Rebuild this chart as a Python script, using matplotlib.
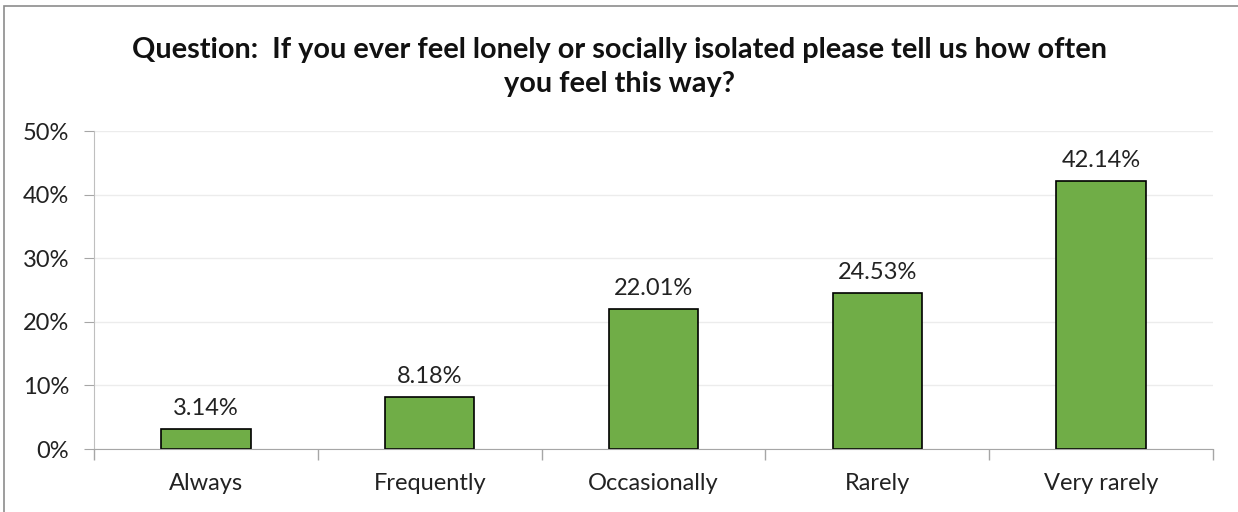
import matplotlib.pyplot as plt
import numpy as np
from matplotlib.patches import Rectangle
from matplotlib.ticker import FuncFormatter

# Data
categories = ['Always', 'Frequently', 'Occasionally', 'Rarely', 'Very rarely']
values = [3.14, 8.18, 22.01, 24.53, 42.14]
title = 'Question:  If you ever feel lonely or socially isolated please tell us how often\nyou feel this way?'

plt.rcParams['font.family'] = ['Lato', 'DejaVu Sans']

fig = plt.figure(figsize=(12.38, 5.12), dpi=100)
ax = fig.add_axes([94 / 1238, 1 - 449 / 512, (1213 - 94) / 1238, (449 - 131) / 512])

x = np.arange(len(categories))
bars = ax.bar(x, values, width=0.4, color='#70ad47', edgecolor='black', linewidth=1.2, zorder=3)

for xi, v in zip(x, values):
    ax.annotate(f'{v:.2f}%', (xi, v), xytext=(0, 7), textcoords='offset points',
                ha='center', va='bottom', fontsize=17, color='#222222')

ax.set_xlim(-0.5, len(categories) - 0.5)
ax.set_ylim(0, 50)
ax.set_yticks(np.arange(0, 51, 10))
ax.yaxis.set_major_formatter(FuncFormatter(lambda v, p: f'{v:.0f}%'))
ax.set_xticks(x)
ax.set_xticklabels(categories)
ax.set_xticks(np.arange(-0.5, len(categories), 1), minor=True)
ax.tick_params(axis='x', which='major', length=0, pad=17, labelsize=17, colors='#222222')
ax.tick_params(axis='x', which='minor', length=8, color='#a6a6a6', width=1)
ax.tick_params(axis='y', length=7, labelsize=17, pad=11)
ax.tick_params(axis='y', colors='#a6a6a6', labelcolor='#222222')

ax.grid(axis='y', color='#ececec', linewidth=1, zorder=0)
for s in ['top', 'right']:
    ax.spines[s].set_visible(False)
ax.spines['left'].set_color('#bfbfbf')
ax.spines['bottom'].set_color('#a6a6a6')
ax.spines['bottom'].set_zorder(4)

fig.text(0.5, 1 - 67 / 512, title, ha='center', va='center', fontsize=20.8,
         fontweight='bold', linespacing=1.38, color='#111111')

# chart border
fig.patches.append(Rectangle((4 / 1238, -0.05), 1.1, 1 - 6 / 512 + 0.05, transform=fig.transFigure,
                             fill=False, edgecolor='#8c8c8c', linewidth=1.2))

fig.savefig('out.png', dpi=100)
